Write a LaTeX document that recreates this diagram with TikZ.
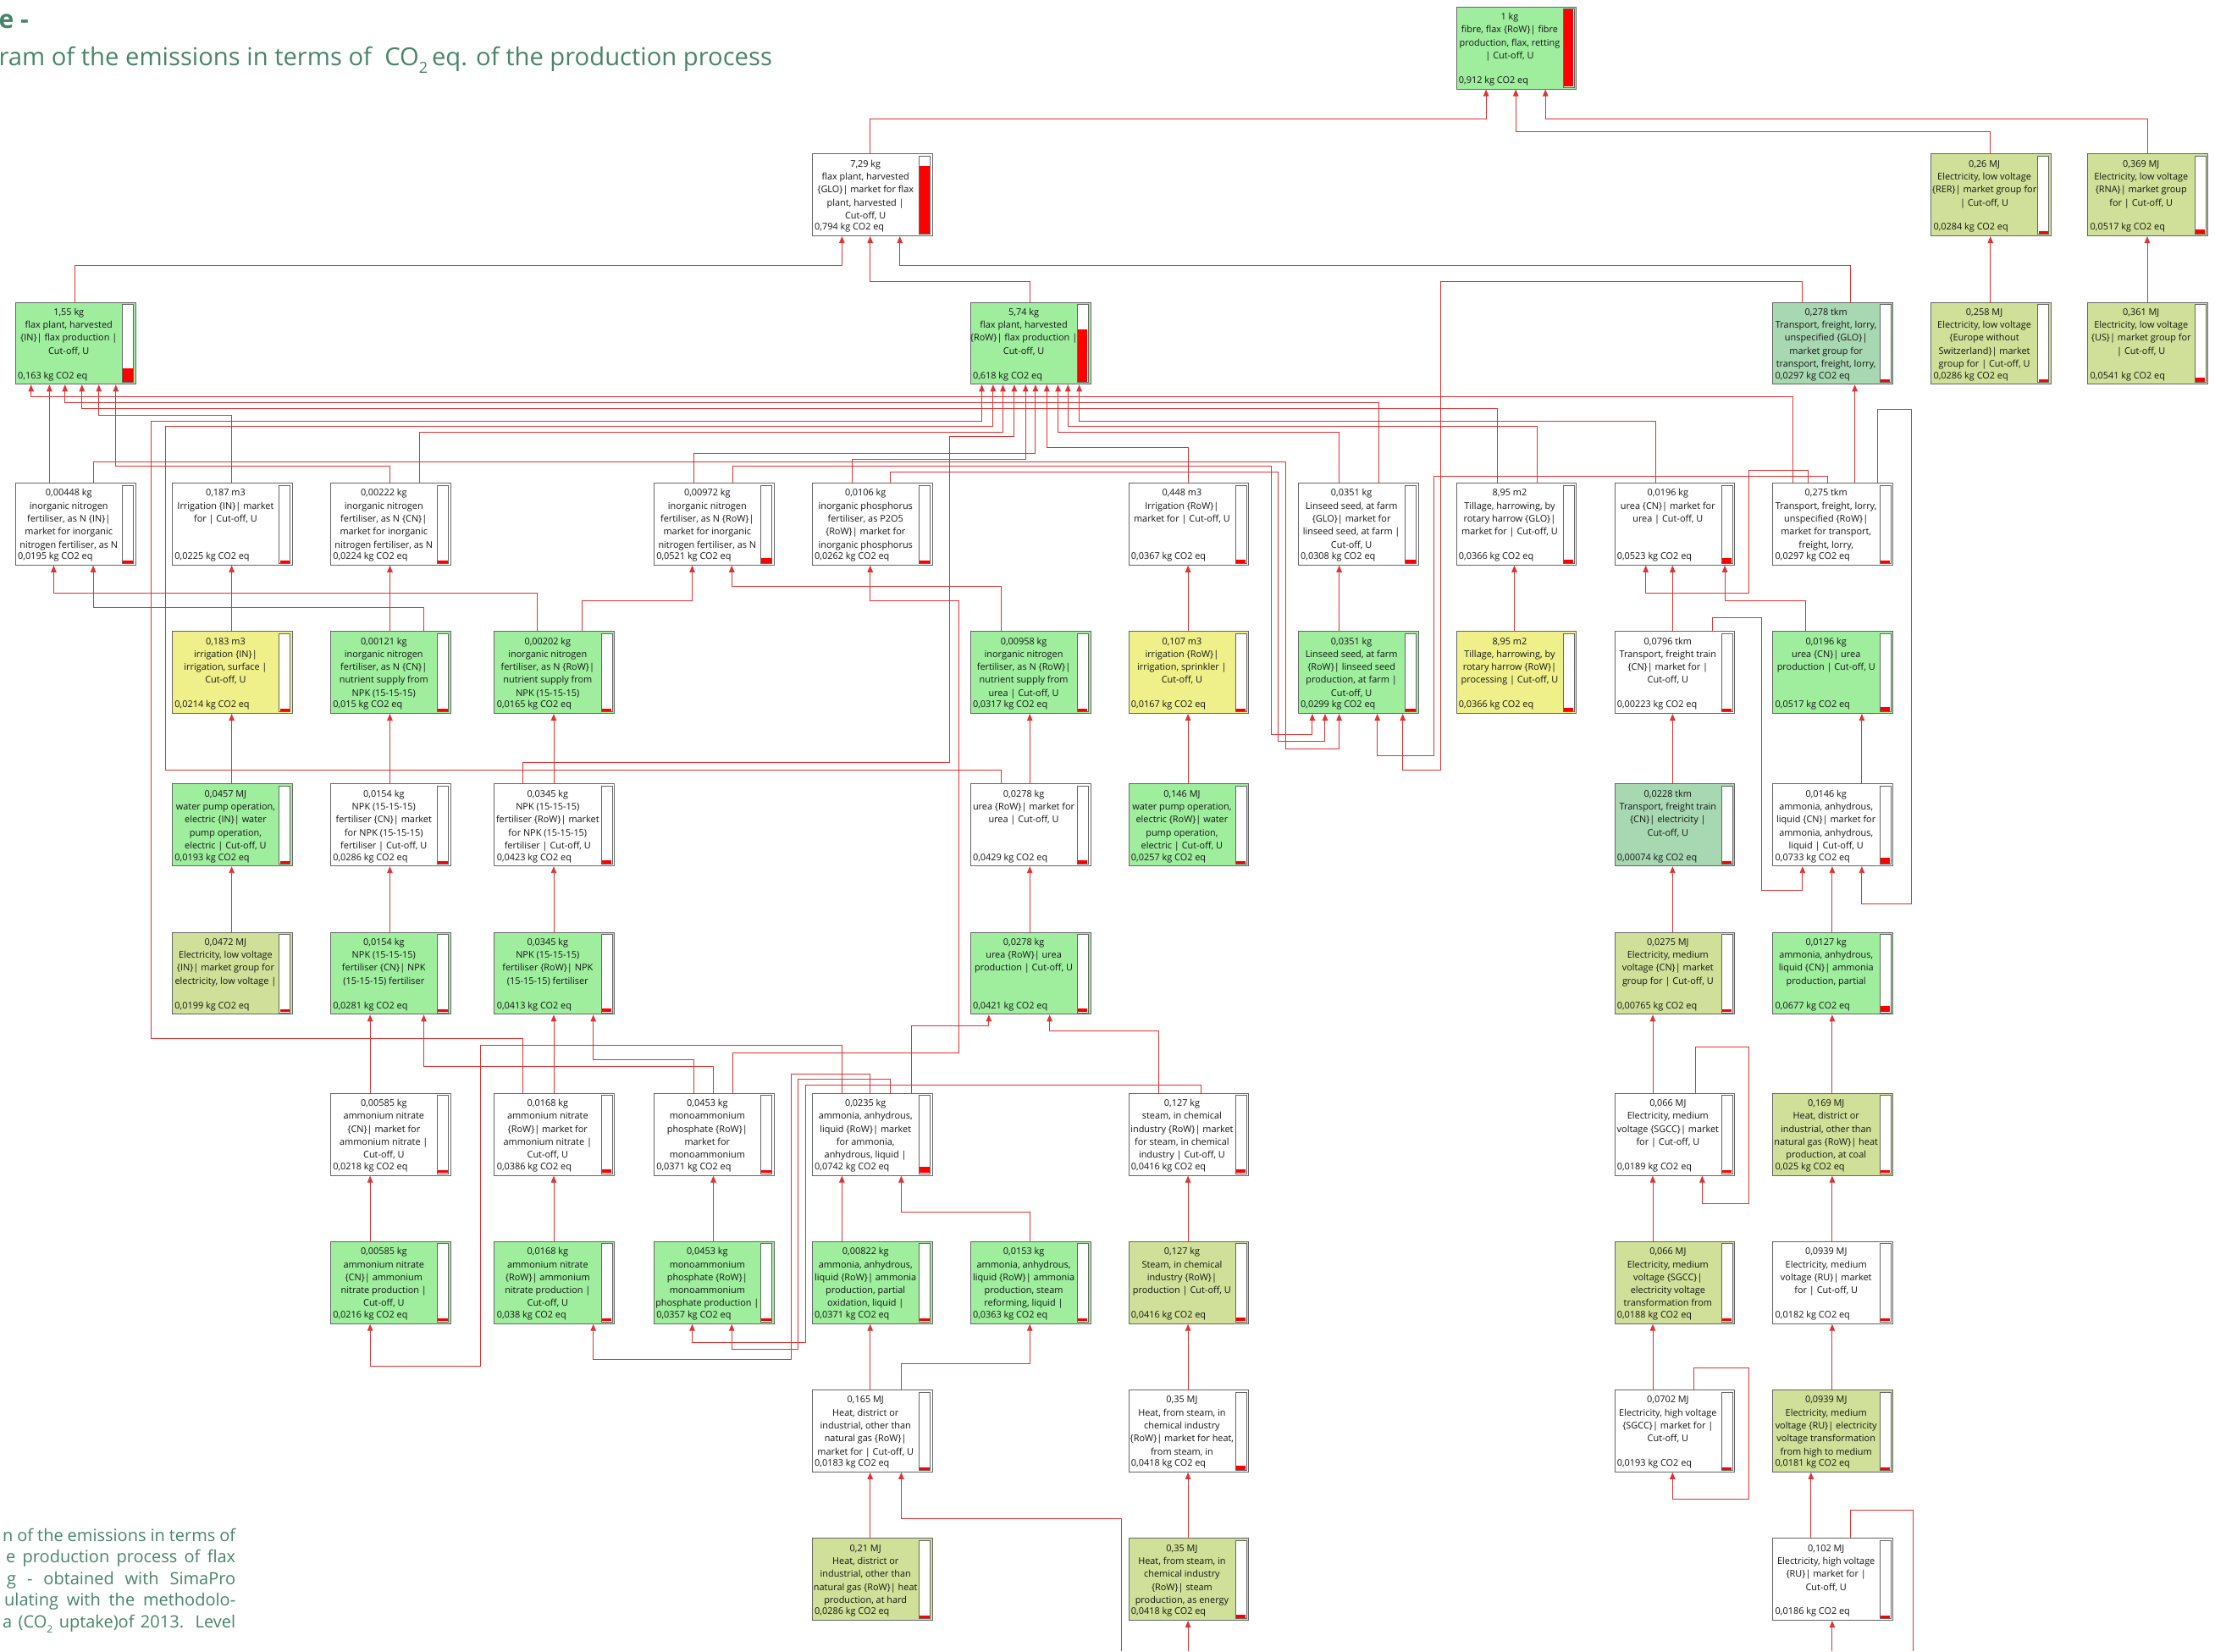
\documentclass[tikz,border=0pt]{standalone}
\usepackage{fontspec}
\setmainfont{Open Sans}
\usetikzlibrary{arrows.meta,calc}
\definecolor{pgreen}{RGB}{158,238,158}
\definecolor{polive}{RGB}{208,224,152}
\definecolor{pyellow}{RGB}{240,240,138}
\definecolor{pteal}{RGB}{168,216,178}
\definecolor{linkred}{RGB}{222,52,52}
\definecolor{barred}{RGB}{255,0,0}
\definecolor{titlegreen}{RGB}{72,132,108}
\tikzset{
 procnode/.style={rectangle, draw=black!60, line width=0.9pt, minimum width=141.8pt, minimum height=96.8pt, inner sep=0pt},
 proctext/.style={font=\fontsize{10.9}{15.3}\selectfont, align=center, inner sep=0pt, text=black!92},
 procval/.style={font=\fontsize{10.9}{13}\selectfont, inner sep=0pt, text=black!92},
 barframe/.style={draw=black!60, fill=white, line width=0.8pt},
 conn/.style={draw=linkred, line width=0.9pt, -{Triangle[width=6.5pt,length=8pt]}},
 connplain/.style={draw=linkred, line width=0.9pt},
 bodytxt/.style={font=\fontsize{20}{25}\selectfont, text=titlegreen, inner sep=0pt},
}
\newcommand\procbox[8]{%
  \node[procnode, fill=#4] (#1) at ({#2+42.5},{#3+29}) {};
  \pgfmathsetmacro\redh{max(1.8,55.0*#5/0.912)}
  \draw[barframe] (#2+75.6,#3+1.4) rectangle (#2+83.4,#3+56.8);
  \fill[barred] (#2+76.1,#3+56.3) rectangle (#2+82.9,#3+56.3-\redh);
  \node[proctext, anchor=north] (#1-t) at (#2+37.7,#3+2.6) {\strut #6\\#7};
  \node[procval, anchor=base west] (#1-v) at (#2+1.6,#3+54) {#8};
}
\newcommand\vedge[3]{\draw[conn] (#1.north -| #2,0) -- (#3.south -| #2,0);}
\newcommand\ledge[5]{\draw[conn] (#1.north -| #2,0) -- (#2,#3) -- (#5,#3) -- (#4.south -| #5,0);}
\newcommand\bedge[7]{\draw[conn] (#1.north -| #2,0) -- (#2,#3) -- (#4,#3) -- (#4,#5) -- (#7,#5) -- (#6.south -| #7,0);}
\newcommand\subtwo[1]{\raisebox{-0.3em}{\fontsize{#1}{#1}\selectfont 2}}
\begin{document}
\begin{tikzpicture}[x=1.6684pt, y=-1.6684pt]
\useasboundingbox (0,0) rectangle (1568,1169);
\fill[white] (0,0) rectangle (1568,1169);

% titles
\node[font=\fontsize{30}{30}\selectfont\bfseries, text=titlegreen, inner sep=0pt, anchor=base west] (ttlA) at (-1,19.8) {e -};
\node[font=\fontsize{29.2}{30}\selectfont, text=titlegreen, inner sep=0pt, anchor=base west] (ttlB) at (-1,46.5) {ram of the emissions in terms of \ CO\subtwo{18}\,eq. of the production process};
\node[bodytxt, anchor=base west] (bt1) at (1.8,1091) {\makebox[275pt][s]{n of the emissions in terms of}};
\node[bodytxt, anchor=base west] (bt2) at (4.2,1106.3) {\makebox[271pt][s]{e production process of flax}};
\node[bodytxt, anchor=base west] (bt3) at (4.8,1121.6) {\makebox[270pt][s]{g - obtained with SimaPro}};
\node[bodytxt, anchor=base west] (bt4) at (3,1136.9) {\makebox[273pt][s]{ulating with the methodolo-}};
\node[bodytxt, anchor=base west] (bt5) at (1.8,1152.2) {\makebox[275pt][s]{a (CO\subtwo{12}\ uptake)of 2013. Level}};

% nodes
\procbox{fibre}{1031}{5}{pgreen}{0.912}{1 kg}{fibre, flax \{RoW\}| fibre\\production, flax, retting\\| Cut-off, U}{0,912 kg CO2 eq}
\procbox{mglo}{575}{109}{white}{0.794}{7,29 kg}{flax plant, harvested\\\{GLO\}| market for flax\\plant, harvested |\\Cut-off, U}{0,794 kg CO2 eq}
\procbox{RER}{1367}{109}{polive}{0.0284}{0,26 MJ}{Electricity, low voltage\\\{RER\}| market group for\\| Cut-off, U}{0,0284 kg CO2 eq}
\procbox{RNA}{1478}{109}{polive}{0.0517}{0,369 MJ}{Electricity, low voltage\\\{RNA\}| market group\\for | Cut-off, U}{0,0517 kg CO2 eq}

\procbox{flaxIN}{11}{214}{pgreen}{0.163}{1,55 kg}{flax plant, harvested\\\{IN\}| flax production |\\Cut-off, U}{0,163 kg CO2 eq}
\procbox{flaxRoW}{687}{214}{pgreen}{0.618}{5,74 kg}{flax plant, harvested\\\{RoW\}| flax production |\\Cut-off, U}{0,618 kg CO2 eq}
\procbox{trGLO}{1255}{214}{pteal}{0.0297}{0,278 tkm}{Transport, freight, lorry,\\unspecified \{GLO\}|\\market group for\\transport, freight, lorry,}{0,0297 kg CO2 eq}
\procbox{EUnoCH}{1367}{214}{polive}{0.0286}{0,258 MJ}{Electricity, low voltage\\\{Europe without\\Switzerland\}| market\\group for | Cut-off, U}{0,0286 kg CO2 eq}
\procbox{US}{1478}{214}{polive}{0.0541}{0,361 MJ}{Electricity, low voltage\\\{US\}| market group for\\| Cut-off, U}{0,0541 kg CO2 eq}

\procbox{NIN}{11}{342}{white}{0.0195}{0,00448 kg}{inorganic nitrogen\\fertiliser, as N \{IN\}|\\market for inorganic\\nitrogen fertiliser, as N}{0,0195 kg CO2 eq}
\procbox{irrIN}{122}{342}{white}{0.0225}{0,187 m3}{Irrigation \{IN\}| market\\for | Cut-off, U}{0,0225 kg CO2 eq}
\procbox{NCN}{234}{342}{white}{0.0224}{0,00222 kg}{inorganic nitrogen\\fertiliser, as N \{CN\}|\\market for inorganic\\nitrogen fertiliser, as N}{0,0224 kg CO2 eq}
\procbox{NRoW}{463}{342}{white}{0.0521}{0,00972 kg}{inorganic nitrogen\\fertiliser, as N \{RoW\}|\\market for inorganic\\nitrogen fertiliser, as N}{0,0521 kg CO2 eq}
\procbox{PRoW}{575}{342}{white}{0.0262}{0,0106 kg}{inorganic phosphorus\\fertiliser, as P2O5\\\{RoW\}| market for\\inorganic phosphorus}{0,0262 kg CO2 eq}
\procbox{irrRoW}{799}{342}{white}{0.0367}{0,448 m3}{Irrigation \{RoW\}|\\market for | Cut-off, U}{0,0367 kg CO2 eq}
\procbox{linGLO}{919}{342}{white}{0.0308}{0,0351 kg}{Linseed seed, at farm\\\{GLO\}| market for\\linseed seed, at farm |\\Cut-off, U}{0,0308 kg CO2 eq}
\procbox{tilGLO}{1031}{342}{white}{0.0366}{8,95 m2}{Tillage, harrowing, by\\rotary harrow \{GLO\}|\\market for | Cut-off, U}{0,0366 kg CO2 eq}
\procbox{ureaCNm}{1143}{342}{white}{0.0523}{0,0196 kg}{urea \{CN\}| market for\\urea | Cut-off, U}{0,0523 kg CO2 eq}
\procbox{trRoW}{1255}{342}{white}{0.0297}{0,275 tkm}{Transport, freight, lorry,\\unspecified \{RoW\}|\\market for transport,\\freight, lorry,}{0,0297 kg CO2 eq}

\procbox{irrINs}{122}{447}{pyellow}{0.0214}{0,183 m3}{irrigation \{IN\}|\\irrigation, surface |\\Cut-off, U}{0,0214 kg CO2 eq}
\procbox{NCNs}{234}{447}{pgreen}{0.015}{0,00121 kg}{inorganic nitrogen\\fertiliser, as N \{CN\}|\\nutrient supply from\\NPK (15-15-15)}{0,015 kg CO2 eq}
\procbox{NRoWs}{350}{447}{pgreen}{0.0165}{0,00202 kg}{inorganic nitrogen\\fertiliser, as N \{RoW\}|\\nutrient supply from\\NPK (15-15-15)}{0,0165 kg CO2 eq}
\procbox{NRoWu}{687}{447}{pgreen}{0.0317}{0,00958 kg}{inorganic nitrogen\\fertiliser, as N \{RoW\}|\\nutrient supply from\\urea | Cut-off, U}{0,0317 kg CO2 eq}
\procbox{irrRoWs}{799}{447}{pyellow}{0.0167}{0,107 m3}{irrigation \{RoW\}|\\irrigation, sprinkler |\\Cut-off, U}{0,0167 kg CO2 eq}
\procbox{linRoW}{919}{447}{pgreen}{0.0299}{0,0351 kg}{Linseed seed, at farm\\\{RoW\}| linseed seed\\production, at farm |\\Cut-off, U}{0,0299 kg CO2 eq}
\procbox{tilRoW}{1031}{447}{pyellow}{0.0366}{8,95 m2}{Tillage, harrowing, by\\rotary harrow \{RoW\}|\\processing | Cut-off, U}{0,0366 kg CO2 eq}
\procbox{trainCNm}{1143}{447}{white}{0.00223}{0,0796 tkm}{Transport, freight train\\\{CN\}| market for |\\Cut-off, U}{0,00223 kg CO2 eq}
\procbox{ureaCNp}{1255}{447}{pgreen}{0.0517}{0,0196 kg}{urea \{CN\}| urea\\production | Cut-off, U}{0,0517 kg CO2 eq}

\procbox{wpIN}{122}{555}{pgreen}{0.0193}{0,0457 MJ}{water pump operation,\\electric \{IN\}| water\\pump operation,\\electric | Cut-off, U}{0,0193 kg CO2 eq}
\procbox{npkCNm}{234}{555}{white}{0.0286}{0,0154 kg}{NPK (15-15-15)\\fertiliser \{CN\}| market\\for NPK (15-15-15)\\fertiliser | Cut-off, U}{0,0286 kg CO2 eq}
\procbox{npkRoWm}{350}{555}{white}{0.0423}{0,0345 kg}{NPK (15-15-15)\\fertiliser \{RoW\}| market\\for NPK (15-15-15)\\fertiliser | Cut-off, U}{0,0423 kg CO2 eq}
\procbox{ureaRoWm}{687}{555}{white}{0.0429}{0,0278 kg}{urea \{RoW\}| market for\\urea | Cut-off, U}{0,0429 kg CO2 eq}
\procbox{wpRoW}{799}{555}{pgreen}{0.0257}{0,146 MJ}{water pump operation,\\electric \{RoW\}| water\\pump operation,\\electric | Cut-off, U}{0,0257 kg CO2 eq}
\procbox{trainCN}{1143}{555}{pteal}{0.00074}{0,0228 tkm}{Transport, freight train\\\{CN\}| electricity |\\Cut-off, U}{0,00074 kg CO2 eq}
\procbox{ammCNm}{1255}{555}{white}{0.0733}{0,0146 kg}{ammonia, anhydrous,\\liquid \{CN\}| market for\\ammonia, anhydrous,\\liquid | Cut-off, U}{0,0733 kg CO2 eq}

\procbox{elecLVIN}{122}{660}{polive}{0.0199}{0,0472 MJ}{Electricity, low voltage\\\{IN\}| market group for\\electricity, low voltage |}{0,0199 kg CO2 eq}
\procbox{npkCNp}{234}{660}{pgreen}{0.0281}{0,0154 kg}{NPK (15-15-15)\\fertiliser \{CN\}| NPK\\(15-15-15) fertiliser}{0,0281 kg CO2 eq}
\procbox{npkRoWp}{350}{660}{pgreen}{0.0413}{0,0345 kg}{NPK (15-15-15)\\fertiliser \{RoW\}| NPK\\(15-15-15) fertiliser}{0,0413 kg CO2 eq}
\procbox{ureaRoWp}{687}{660}{pgreen}{0.0421}{0,0278 kg}{urea \{RoW\}| urea\\production | Cut-off, U}{0,0421 kg CO2 eq}
\procbox{elecMVCN}{1143}{660}{polive}{0.00765}{0,0275 MJ}{Electricity, medium\\voltage \{CN\}| market\\group for | Cut-off, U}{0,00765 kg CO2 eq}
\procbox{ammCNp}{1255}{660}{pgreen}{0.0677}{0,0127 kg}{ammonia, anhydrous,\\liquid \{CN\}| ammonia\\production, partial}{0,0677 kg CO2 eq}

\procbox{anCNm}{234}{774}{white}{0.0218}{0,00585 kg}{ammonium nitrate\\\{CN\}| market for\\ammonium nitrate |\\Cut-off, U}{0,0218 kg CO2 eq}
\procbox{anRoWm}{350}{774}{white}{0.0386}{0,0168 kg}{ammonium nitrate\\\{RoW\}| market for\\ammonium nitrate |\\Cut-off, U}{0,0386 kg CO2 eq}
\procbox{mapRoWm}{463}{774}{white}{0.0371}{0,0453 kg}{monoammonium\\phosphate \{RoW\}|\\market for\\monoammonium}{0,0371 kg CO2 eq}
\procbox{ammRoWm}{575}{774}{white}{0.0742}{0,0235 kg}{ammonia, anhydrous,\\liquid \{RoW\}| market\\for ammonia,\\anhydrous, liquid |}{0,0742 kg CO2 eq}
\procbox{steamRoWm}{799}{774}{white}{0.0416}{0,127 kg}{steam, in chemical\\industry \{RoW\}| market\\for steam, in chemical\\industry | Cut-off, U}{0,0416 kg CO2 eq}
\procbox{elecMVSGm}{1143}{774}{white}{0.0189}{0,066 MJ}{Electricity, medium\\voltage \{SGCC\}| market\\for | Cut-off, U}{0,0189 kg CO2 eq}
\procbox{heatCoal}{1255}{774}{polive}{0.025}{0,169 MJ}{Heat, district or\\industrial, other than\\natural gas \{RoW\}| heat\\production, at coal}{0,025 kg CO2 eq}

\procbox{anCNp}{234}{879}{pgreen}{0.0216}{0,00585 kg}{ammonium nitrate\\\{CN\}| ammonium\\nitrate production |\\Cut-off, U}{0,0216 kg CO2 eq}
\procbox{anRoWp}{350}{879}{pgreen}{0.038}{0,0168 kg}{ammonium nitrate\\\{RoW\}| ammonium\\nitrate production |\\Cut-off, U}{0,038 kg CO2 eq}
\procbox{mapRoWp}{463}{879}{pgreen}{0.0357}{0,0453 kg}{monoammonium\\phosphate \{RoW\}|\\monoammonium\\phosphate production |}{0,0357 kg CO2 eq}
\procbox{ammPO}{575}{879}{pgreen}{0.0371}{0,00822 kg}{ammonia, anhydrous,\\liquid \{RoW\}| ammonia\\production, partial\\oxidation, liquid |}{0,0371 kg CO2 eq}
\procbox{ammSR}{687}{879}{pgreen}{0.0363}{0,0153 kg}{ammonia, anhydrous,\\liquid \{RoW\}| ammonia\\production, steam\\reforming, liquid |}{0,0363 kg CO2 eq}
\procbox{steamRoWp}{799}{879}{polive}{0.0416}{0,127 kg}{Steam, in chemical\\industry \{RoW\}|\\production | Cut-off, U}{0,0416 kg CO2 eq}
\procbox{elecMVSGt}{1143}{879}{polive}{0.0188}{0,066 MJ}{Electricity, medium\\voltage \{SGCC\}|\\electricity voltage\\transformation from}{0,0188 kg CO2 eq}
\procbox{elecMVRUm}{1255}{879}{white}{0.0182}{0,0939 MJ}{Electricity, medium\\voltage \{RU\}| market\\for | Cut-off, U}{0,0182 kg CO2 eq}

\procbox{heatRoWm}{575}{984}{white}{0.0183}{0,165 MJ}{Heat, district or\\industrial, other than\\natural gas \{RoW\}|\\market for | Cut-off, U}{0,0183 kg CO2 eq}
\procbox{heatSteamm}{799}{984}{white}{0.0418}{0,35 MJ}{Heat, from steam, in\\chemical industry\\\{RoW\}| market for heat,\\from steam, in}{0,0418 kg CO2 eq}
\procbox{elecHVSGm}{1143}{984}{white}{0.0193}{0,0702 MJ}{Electricity, high voltage\\\{SGCC\}| market for |\\Cut-off, U}{0,0193 kg CO2 eq}
\procbox{elecMVRUt}{1255}{984}{polive}{0.0181}{0,0939 MJ}{Electricity, medium\\voltage \{RU\}| electricity\\voltage transformation\\from high to medium}{0,0181 kg CO2 eq}

\procbox{heatHard}{575}{1089}{polive}{0.0286}{0,21 MJ}{Heat, district or\\industrial, other than\\natural gas \{RoW\}| heat\\production, at hard}{0,0286 kg CO2 eq}
\procbox{heatSteamp}{799}{1089}{polive}{0.0418}{0,35 MJ}{Heat, from steam, in\\chemical industry\\\{RoW\}| steam\\production, as energy}{0,0418 kg CO2 eq}
\procbox{elecHVRUm}{1255}{1089}{white}{0.0186}{0,102 MJ}{Electricity, high voltage\\\{RU\}| market for |\\Cut-off, U}{0,0186 kg CO2 eq}

% ---------------- connectors ----------------
\ledge{mglo}{616}{84}{fibre}{1052}
\ledge{RER}{1409}{93}{fibre}{1073}
\ledge{RNA}{1520}{84}{fibre}{1094}
\vedge{EUnoCH}{1409}{RER}
\vedge{US}{1520}{RNA}
\ledge{flaxIN}{53}{188}{mglo}{596}
\ledge{flaxRoW}{729}{199}{mglo}{616}
\ledge{trGLO}{1310}{188}{mglo}{637}
\vedge{trRoW}{1313}{trGLO}
% flax IN
\vedge{NIN}{35}{flaxIN}
\ledge{trRoW}{1269}{281}{flaxIN}{22}
\ledge{linGLO}{976}{285}{flaxIN}{46}
\ledge{tilGLO}{1060}{289}{flaxIN}{58}
\ledge{irrIN}{164}{294}{flaxIN}{70}
\ledge{NCN}{276}{330}{flaxIN}{82}
% flax RoW
\bedge{anRoWm}{370}{735}{107}{298}{flaxRoW}{695}
\bedge{ureaRoWm}{709}{545}{117}{302}{flaxRoW}{703}
\ledge{NCN}{297}{306}{flaxRoW}{710}
\bedge{npkRoWm}{370}{540}{672}{309}{flaxRoW}{718}
\ledge{PRoW}{603}{325}{flaxRoW}{726}
\ledge{NRoW}{491}{321}{flaxRoW}{733}
\ledge{irrRoW}{841}{317}{flaxRoW}{741}
\ledge{linGLO}{948}{306}{flaxRoW}{749}
\ledge{tilGLO}{1088}{302}{flaxRoW}{756}
\ledge{ureaCNm}{1172}{298}{flaxRoW}{764}
% row3 inputs
\ledge{NRoWs}{380}{420}{NIN}{38}
\ledge{NCNs}{300}{430}{NIN}{66}
\vedge{NCNs}{276}{NCN}
\vedge{irrINs}{164}{irrIN}
\ledge{NRoWs}{412}{425}{NRoW}{490}
\ledge{NRoWu}{709}{415}{NRoW}{518}
\bedge{mapRoWm}{519}{745}{679}{425}{PRoW}{616}
\vedge{irrRoWs}{841}{irrRoW}
\vedge{linRoW}{948}{linGLO}
\vedge{tilRoW}{1072}{tilGLO}
\vedge{trainCNm}{1184}{ureaCNm}
\ledge{ureaCNp}{1278}{425}{ureaCNm}{1221}
\bedge{trRoW}{1280}{333}{1238}{420}{ureaCNm}{1165}
% linseed RoW
\bedge{NRoW}{519}{330}{900}{520}{linRoW}{929}
\bedge{PRoW}{630}{334}{905}{525}{linRoW}{938}
\bedge{NIN}{66}{327}{910}{530}{linRoW}{948}
\bedge{trGLO}{1276}{199}{1020}{545}{linRoW}{993}
\bedge{trRoW}{1294}{337}{1015}{535}{linRoW}{975}
% row4-5
\vedge{wpIN}{164}{irrINs}
\vedge{npkCNm}{276}{NCNs}
\vedge{npkRoWm}{392}{NRoWs}
\vedge{ureaRoWm}{729}{NRoWu}
\vedge{wpRoW}{841}{irrRoWs}
\vedge{trainCN}{1184}{trainCNm}
\vedge{ammCNm}{1318}{ureaCNp}
\bedge{trainCNm}{1212}{437}{1247}{630}{ammCNm}{1276}
\bedge{trRoW}{1329}{290}{1353}{640}{ammCNm}{1318}
% row5-6
\vedge{elecLVIN}{164}{wpIN}
\vedge{npkCNp}{276}{npkCNm}
\vedge{npkRoWp}{392}{npkRoWm}
\vedge{ureaRoWp}{729}{ureaRoWm}
\vedge{elecMVCN}{1184}{trainCN}
\vedge{ammCNp}{1297}{ammCNm}
% row6-7
\vedge{anCNm}{262}{npkCNp}
\vedge{anRoWm}{392}{npkRoWp}
\ledge{mapRoWm}{491}{750}{npkRoWp}{420}
\ledge{mapRoWm}{505}{755}{npkCNp}{300}
\ledge{ammRoWm}{645}{726}{ureaRoWp}{700}
\ledge{steamRoWm}{820}{730}{ureaRoWp}{743}
\vedge{elecMVSGm}{1170}{elecMVCN}
\vedge{heatCoal}{1297}{ammCNp}
\draw[conn] (elecMVSGm.north -| 1200,0) -- (1200,741) -- (1238,741) -- (1238,852) -- (1205,852) -- (elecMVSGm.south -| 1205,0);
% row7-8
\vedge{anCNp}{262}{anCNm}
\vedge{anRoWp}{392}{anRoWm}
\vedge{mapRoWp}{505}{mapRoWm}
\vedge{ammPO}{596}{ammRoWm}
\ledge{ammSR}{729}{858}{ammRoWm}{638}
\vedge{steamRoWp}{841}{steamRoWm}
\vedge{elecMVSGt}{1170}{elecMVSGm}
\vedge{elecMVRUm}{1297}{heatCoal}
\bedge{ammRoWm}{596}{740}{340}{967}{anCNp}{262}
\bedge{ammRoWm}{616}{760}{560}{962}{anRoWp}{420}
\bedge{ammRoWm}{630}{764}{565}{955}{mapRoWp}{518}
\bedge{steamRoWm}{850}{768}{570}{950}{mapRoWp}{490}
% row8-10
\ledge{heatRoWm}{638}{965}{ammSR}{729}
\vedge{heatRoWm}{616}{ammPO}
\vedge{heatSteamm}{841}{steamRoWp}
\vedge{elecHVSGm}{1170}{elecMVSGt}
\vedge{elecMVRUt}{1297}{elecMVRUm}
\draw[conn] (elecHVSGm.north -| 1199,0) -- (1199,968) -- (1238,968) -- (1238,1061) -- (1184,1061) -- (elecHVSGm.south -| 1184,0);
\vedge{heatHard}{616}{heatRoWm}
\vedge{heatSteamp}{841}{heatSteamm}
\vedge{elecHVRUm}{1282}{elecMVRUt}
\coordinate (pbA) at (794,1169);
\coordinate (pbB) at (841,1169);
\coordinate (pbC) at (1297,1169);
\coordinate (pbD) at (1354,1169);
\draw[conn] (pbA) -- (794,1075) -- (638,1075) -- (heatRoWm.south -| 638,0);
\draw[conn] (pbB) -- (heatSteamp.south -| 841,0);
\draw[conn] (pbC) -- (elecHVRUm.south -| 1297,0);
\draw[connplain] (elecHVRUm.north -| 1310,0) -- (1310,1069) -- (1354,1069) -- (pbD);
\end{tikzpicture}
\end{document}
